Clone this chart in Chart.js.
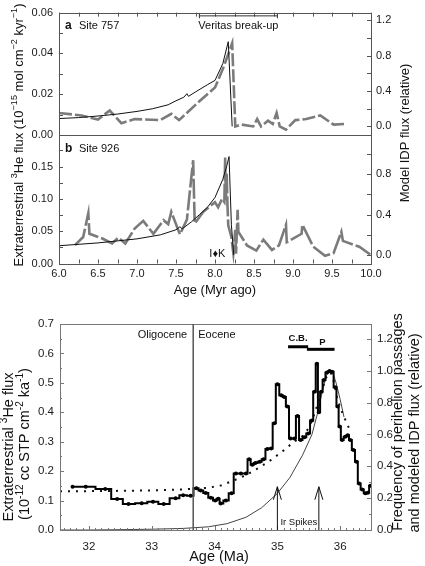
<!DOCTYPE html>
<html><head><meta charset="utf-8">
<script src="https://cdn.jsdelivr.net/npm/chart.js@4.4.1/dist/chart.umd.min.js"></script>
<style>
html,body{margin:0;padding:0;background:#fff;}
#wrap{position:relative;width:425px;height:566px;overflow:hidden;}
canvas{position:absolute;left:0;top:0;}
</style></head><body>
<div id="wrap">
<canvas id="ca" width="425" height="566"></canvas>
<canvas id="cb" width="425" height="566"></canvas>
<canvas id="cc" width="425" height="566"></canvas>
</div>
<script>
// ---------------- DATA ----------------
// Panel a: Site 757 measured 3He flux (left axis) and model IDP flux (right axis)
const ageA_site757  = [6.0, 6.29, 6.50, 6.65, 6.80, 6.97, 7.30, 7.44, 7.54, 7.77, 8.0, 8.11, 8.22, 8.26, 8.34, 8.49, 8.54, 8.59, 8.68, 8.74, 8.79, 8.83, 8.91, 9.03, 9.17, 9.35, 9.52, 9.67];
const fluxA_site757 = [0.0108, 0.0096, 0.0076, 0.0120, 0.0058, 0.0078, 0.0073, 0.0104, 0.0073, 0.0155, 0.0233, 0.0333, 0.0450, 0.0042, 0.0051, 0.0042, 0.0078, 0.0042, 0.0070, 0.0054, 0.0108, 0.0042, 0.0026, 0.0073, 0.0078, 0.0096, 0.0051, 0.0054];
const ageA_model = [6.0, 6.25, 6.5, 6.75, 7.0, 7.2, 7.4, 7.5, 7.6, 7.64, 7.66, 7.75, 7.9, 8.0, 8.1, 8.17, 8.22];
const relA_model = [0.089, 0.100, 0.118, 0.140, 0.170, 0.200, 0.245, 0.290, 0.330, 0.370, 0.340, 0.390, 0.470, 0.520, 0.710, 0.957, 0.0];

// Panel b: Site 926
const ageB_site926  = [6.205, 6.31, 6.376, 6.39, 6.55, 6.68, 6.76, 6.85, 6.97, 7.08, 7.21, 7.34, 7.40, 7.44, 7.55, 7.64, 7.72, 7.74, 7.85, 8.0, 8.04, 8.09, 8.12, 8.13, 8.14, 8.15, 8.16, 8.17, 8.21, 8.235, 8.26, 8.27, 8.29, 8.30, 8.41, 8.53, 8.62, 8.73, 8.82, 8.91, 8.92, 9.11, 9.12, 9.26, 9.41, 9.52, 9.62, 9.64, 9.85, 9.99];
const fluxB_site926 = [0.0285, 0.041, 0.078, 0.046, 0.039, 0.031, 0.040, 0.031, 0.054, 0.066, 0.046, 0.067, 0.061, 0.080, 0.045, 0.068, 0.160, 0.062, 0.080, 0.095, 0.087, 0.100, 0.095, 0.164, 0.098, 0.139, 0.090, 0.059, 0.041, 0.016, 0.052, 0.015, 0.083, 0.049, 0.028, 0.020, 0.037, 0.021, 0.028, 0.060, 0.033, 0.046, 0.060, 0.026, 0.012, 0.016, 0.049, 0.035, 0.026, 0.014];
const ageB_model = [6.0, 6.5, 7.0, 7.3, 7.5, 7.55, 7.58, 7.7, 7.8, 7.9, 8.0, 8.1, 8.15, 8.18, 8.21, 8.24];
const relB_model = [0.092, 0.120, 0.160, 0.200, 0.250, 0.280, 0.260, 0.330, 0.400, 0.470, 0.570, 0.750, 0.880, 0.975, 0.300, 0.0];

// Panel c: Eocene 3He flux (step, left axis), perihelion frequency (dotted) and modeled IDP flux (thin), right axis
const ageC_he = [31.74, 31.95, 32.26, 32.45, 32.63, 32.84, 33.02, 33.19, 33.38, 33.50, 33.62,
                 33.71, 33.78, 33.86, 33.94, 34.01, 34.06, 34.10, 34.18, 34.27, 34.34, 34.42,
                 34.50, 34.55, 34.60, 34.65, 34.72, 34.78, 34.84, 34.90, 34.95, 35.00, 35.06,
                 35.11, 35.16, 35.21, 35.27, 35.32, 35.37, 35.43, 35.49, 35.55, 35.59, 35.63,
                 35.66, 35.70, 35.74, 35.79, 35.83, 35.87, 35.92, 35.96, 35.99, 36.03, 36.08,
                 36.12, 36.16, 36.21, 36.26, 36.30, 36.35, 36.40, 36.44, 36.48];
const fluxC_he = [0.147, 0.147, 0.139, 0.105, 0.088, 0.091, 0.096, 0.088, 0.108, 0.118, 0.116,
                  0.142, 0.134, 0.126, 0.110, 0.100, 0.106, 0.090, 0.100, 0.125, 0.192, 0.192,
                  0.192, 0.240, 0.222, 0.228, 0.232, 0.240, 0.275, 0.277, 0.363, 0.495, 0.458,
                  0.452, 0.420, 0.311, 0.311, 0.387, 0.306, 0.315, 0.328, 0.372, 0.470, 0.565,
                  0.400, 0.470, 0.510, 0.535, 0.540, 0.538, 0.485, 0.420, 0.352, 0.306, 0.317,
                  0.322, 0.306, 0.272, 0.232, 0.158, 0.138, 0.125, 0.127, 0.150];
const ageC_perihelion  = [31.54, 32.0, 32.5, 33.0, 33.5, 33.9, 34.1, 34.3, 34.5, 34.7, 34.9, 35.1, 35.25, 35.4, 35.5, 35.6, 35.7, 35.78, 35.85, 35.9, 35.95, 36.0, 36.05, 36.14];
const freqC_perihelion = [0.243, 0.244, 0.246, 0.249, 0.255, 0.265, 0.280, 0.310, 0.345, 0.390, 0.440, 0.500, 0.550, 0.590, 0.640, 0.740, 0.870, 0.960, 0.990, 0.930, 0.830, 0.770, 0.720, 0.640];
const ageC_idp = [31.54, 32.0, 32.5, 33.0, 33.5, 33.9, 34.2, 34.5, 34.75, 35.0, 35.2, 35.4, 35.55, 35.65, 35.72, 35.78, 35.83, 35.88, 35.93, 36.0, 36.06];
const relC_idp = [0.0, 0.0, 0.002, 0.005, 0.010, 0.020, 0.040, 0.080, 0.140, 0.230, 0.330, 0.470, 0.600, 0.750, 0.880, 0.970, 1.0, 0.990, 0.930, 0.820, 0.710];

// Tick labels
const ticksX_ab    = [6.0, 6.5, 7.0, 7.5, 8.0, 8.5, 9.0, 9.5, 10.0];
const ticksLeftA   = [0.00, 0.02, 0.04, 0.06];
const ticksRightA  = [0.0, 0.4, 0.8, 1.2];
const ticksLeftB   = [0.00, 0.05, 0.10, 0.15];
const ticksRightB  = [0.0, 0.4, 0.8];
const ticksX_c     = [32, 33, 34, 35, 36];
const ticksLeftC   = [0.0, 0.1, 0.2, 0.3, 0.4, 0.5, 0.6, 0.7];
const ticksRightC  = [0.0, 0.2, 0.4, 0.6, 0.8, 1.0, 1.2];

// Annotation values
const veritasBreakup = [7.8, 8.8];
const boundaryAge = 33.66;
const cbRange = [35.17, 35.49];
const pRange  = [35.47, 35.91];
const irSpikes = [35.0, 35.66];

// ---------------- HELPERS ----------------
const FONT = "'Liberation Sans', Arial, Helvetica, sans-serif";
Chart.defaults.font.family = FONT;
Chart.defaults.color = '#1a1a1a';
const GRAY = '#7b7b7b', BLACK = '#111';

function pts(xs, ys) { return xs.map((x, i) => ({ x: x, y: ys[i] })); }

function axis(o) {
  return {
    type: 'linear', position: o.pos, min: o.min, max: o.max,
    display: o.display !== false,
    afterFit: s => { if (o.pos === 'left' || o.pos === 'right') s.width = o.size; else s.height = o.size; },
    afterBuildTicks: s => { s.ticks = o.ticks.map(v => ({ value: v })); },
    grid: { display: false, drawTicks: false },
    border: { display: false },
    ticks: { padding: o.pad, autoSkip: false, maxRotation: 0, minRotation: 0,
             font: { size: o.font }, color: '#1a1a1a',
             callback: v => Number(v).toFixed(o.dec) }
  };
}

function drawRich(c, segs, x, y, it) {
  const size = it.size || 11, w = it.weight || 'normal';
  const base = w + ' ' + size + 'px ' + FONT;
  const sup = w + ' ' + (size * 0.7).toFixed(1) + 'px ' + FONT;
  let total = 0;
  const widths = segs.map(s => { c.font = s.sup ? sup : base; const m = c.measureText(s.s).width; total += m; return m; });
  c.save();
  c.translate(x, y);
  if (it.rot) c.rotate(it.rot);
  let start = it.align === 'left' ? 0 : (it.align === 'right' ? -total : -total / 2);
  c.textBaseline = 'middle'; c.textAlign = 'left';
  segs.forEach((s, i) => { c.font = s.sup ? sup : base; c.fillText(s.s, start, s.sup ? -size * 0.33 : 0); start += widths[i]; });
  c.restore();
}

const framePlugin = {
  id: 'frame',
  afterDatasetsDraw(chart, args, o) {
    const a = chart.chartArea, c = chart.ctx;
    c.save();
    c.strokeStyle = o.color || '#555'; c.lineWidth = 1;
    c.strokeRect(Math.round(a.left) + 0.5, Math.round(a.top) + 0.5, Math.round(a.right - a.left), Math.round(a.bottom - a.top));
    (o.marks || []).forEach(m => {
      const s = chart.scales[m.scale];
      for (let i = 0; ; i++) {
        const v = m.from + i * m.step;
        if (v > m.to + 1e-9) break;
        const isMajor = m.major && Math.abs(v / m.major - Math.round(v / m.major)) < 1e-6;
        const len = isMajor ? m.lenMajor : m.len;
        const p = Math.round(s.getPixelForValue(v)) + 0.5;
        c.beginPath();
        if (m.side === 'bottom') { c.moveTo(p, a.bottom); c.lineTo(p, a.bottom - len); }
        else if (m.side === 'top') { c.moveTo(p, a.top); c.lineTo(p, a.top + len); }
        else if (m.side === 'left') { c.moveTo(a.left, p); c.lineTo(a.left + len, p); }
        else { c.moveTo(a.right, p); c.lineTo(a.right - len, p); }
        c.stroke();
      }
    });
    c.restore();
  }
};

const annotPlugin = {
  id: 'annot',
  afterDatasetsDraw(chart, args, o) {
    const c = chart.ctx;
    const P = (v, sid, d) => (sid ? chart.scales[sid].getPixelForValue(v) : v) + (d || 0);
    c.save();
    (o.items || []).forEach(it => {
      c.strokeStyle = it.color || '#111'; c.fillStyle = it.color || '#111';
      c.lineWidth = it.w || 1; c.lineCap = 'butt';
      if (it.t === 'line') {
        c.beginPath();
        c.moveTo(P(it.x1, it.xs, it.dx1), P(it.y1, it.ys, it.dy1));
        c.lineTo(P(it.x2, it.xs, it.dx2), P(it.y2, it.ys, it.dy2));
        c.stroke();
      } else if (it.t === 'arrow') {
        const x = P(it.x, it.xs), yb = P(it.y1, it.ys), yt = P(it.y2, it.ys);
        c.beginPath(); c.moveTo(x, yb); c.lineTo(x, yt); c.stroke();
        c.beginPath(); c.moveTo(x - it.hw, yt + it.hl); c.lineTo(x, yt); c.lineTo(x + it.hw, yt + it.hl); c.stroke();
      } else if (it.t === 'text') {
        drawRich(c, it.segs || [{ s: it.text }], P(it.x, it.xs, it.dx), P(it.y, it.ys, it.dy), it);
      }
    });
    c.restore();
  }
};

const baseOpts = { responsive: false, animation: false, events: [] };

// ---------------- PANEL A ----------------
new Chart(document.getElementById('ca'), {
  type: 'line',
  data: { datasets: [
    { data: pts(ageA_model, relA_model), yAxisID: 'yR', borderColor: BLACK, borderWidth: 1, pointRadius: 0 },
    { data: pts(ageA_site757, fluxA_site757), yAxisID: 'yL', borderColor: GRAY, borderWidth: 2.6, borderDash: [13, 3], pointRadius: 0 }
  ]},
  options: Object.assign({}, baseOpts, {
    layout: { padding: { top: 6, bottom: 431, left: 0, right: 0 } },
    scales: {
      x: { type: 'linear', min: 6, max: 10, display: false },
      yL: axis({ pos: 'left', min: 0, max: 0.06, size: 59, ticks: ticksLeftA, dec: 2, font: 11, pad: 6 }),
      yR: axis({ pos: 'right', min: -0.0965, max: 1.286, size: 54, ticks: ticksRightA, dec: 1, font: 11, pad: 5 })
    },
    plugins: {
      legend: { display: false }, tooltip: { enabled: false },
      frame: { color: '#555', marks: [
        { scale: 'x', side: 'top', from: 6, to: 10, step: 0.25, len: 4 },
        { scale: 'yR', side: 'right', from: 0, to: 1.2, step: 0.2, len: 4 },
        { scale: 'yL', side: 'left', from: 0, to: 0.06, step: 0.01, len: 4 }
      ]},
      annot: { items: [
        { t: 'text', text: 'a', x: 6.077, y: 0.0535, xs: 'x', ys: 'yL', size: 12, weight: 'bold', align: 'left' },
        { t: 'text', text: 'Site 757', x: 6.256, y: 0.0535, xs: 'x', ys: 'yL', size: 11, align: 'left' },
        { t: 'text', text: 'Veritas break-up', x: (veritasBreakup[0] + veritasBreakup[1]) / 2, y: 0.0535, xs: 'x', ys: 'yL', size: 11, align: 'center' },
        { t: 'line', x1: veritasBreakup[0], y1: 0.0584, x2: veritasBreakup[1], y2: 0.0584, xs: 'x', ys: 'yL', w: 1, color: '#333' },
        { t: 'line', x1: veritasBreakup[0], y1: 0.0595, x2: veritasBreakup[0], y2: 0.0572, xs: 'x', ys: 'yL', w: 1, color: '#333' },
        { t: 'line', x1: veritasBreakup[1], y1: 0.0595, x2: veritasBreakup[1], y2: 0.0572, xs: 'x', ys: 'yL', w: 1, color: '#333' }
      ]}
    }
  }),
  plugins: [framePlugin, annotPlugin]
});

// ---------------- PANEL B ----------------
new Chart(document.getElementById('cb'), {
  type: 'line',
  data: { datasets: [
    { data: pts(ageB_model, relB_model), yAxisID: 'yR', borderColor: BLACK, borderWidth: 1, pointRadius: 0 },
    { data: pts(ageB_site926, fluxB_site926), yAxisID: 'yL', borderColor: GRAY, borderWidth: 2.6, borderDash: [20, 3], pointRadius: 0 }
  ]},
  options: Object.assign({}, baseOpts, {
    layout: { padding: { top: 135, bottom: 0, left: 0, right: 0 } },
    scales: {
      x: axis({ pos: 'bottom', min: 6, max: 10, size: 302.5, ticks: ticksX_ab, dec: 1, font: 11, pad: 4 }),
      yL: axis({ pos: 'left', min: 0, max: 0.199, size: 59, ticks: ticksLeftB, dec: 2, font: 11, pad: 6 }),
      yR: axis({ pos: 'right', min: -0.084, max: 1.189, size: 54, ticks: ticksRightB, dec: 1, font: 11, pad: 5 })
    },
    plugins: {
      legend: { display: false }, tooltip: { enabled: false },
      frame: { color: '#555', marks: [
        { scale: 'x', side: 'bottom', from: 6, to: 10, step: 0.25, len: 4 },
        { scale: 'yR', side: 'right', from: 0, to: 1.0, step: 0.2, len: 4 },
        { scale: 'yL', side: 'left', from: 0, to: 0.175, step: 0.025, len: 4 }
      ]},
      annot: { items: [
        { t: 'text', text: 'b', x: 6.077, y: 0.1777, xs: 'x', ys: 'yL', size: 12, weight: 'bold', align: 'left' },
        { t: 'text', text: 'Site 926', x: 6.256, y: 0.1777, xs: 'x', ys: 'yL', size: 11, align: 'left' },
        { t: 'text', text: 'I\u2666K', x: 8.03, y: 0.0146, xs: 'x', ys: 'yL', size: 11, align: 'center' },
        { t: 'text', x: 19, y: 135, size: 13, rot: -Math.PI / 2, align: 'center', segs: [
          { s: 'Extraterrestrial ' }, { s: '3', sup: 1 }, { s: 'He flux (10' }, { s: '\u221215', sup: 1 },
          { s: ' mol cm' }, { s: '\u22122', sup: 1 }, { s: ' kyr' }, { s: '\u22121', sup: 1 }, { s: ')' } ] },
        { t: 'text', text: 'Model IDP flux (relative)', x: 405, y: 133, size: 13, rot: -Math.PI / 2, align: 'center' },
        { t: 'text', text: 'Age (Myr ago)', x: 215, y: 290, size: 13, align: 'center' }
      ]}
    }
  }),
  plugins: [framePlugin, annotPlugin]
});

// ---------------- PANEL C ----------------
new Chart(document.getElementById('cc'), {
  type: 'line',
  data: { datasets: [
    { data: pts(ageC_he, fluxC_he), yAxisID: 'yL', borderColor: '#000', borderWidth: 2, stepped: 'middle',
      pointRadius: 2, pointBackgroundColor: '#000', pointBorderWidth: 0 },
    { data: pts(ageC_perihelion, freqC_perihelion), yAxisID: 'yR', borderColor: '#111', borderWidth: 2, borderDash: [2, 6], pointRadius: 0 },
    { data: pts(ageC_idp, relC_idp), yAxisID: 'yR', borderColor: '#444', borderWidth: 1, pointRadius: 0 }
  ]},
  options: Object.assign({}, baseOpts, {
    layout: { padding: { top: 324, bottom: 0, left: 0, right: 0 } },
    scales: {
      x: axis({ pos: 'bottom', min: 31.54, max: 36.49, size: 36, ticks: ticksX_c, dec: 0, font: 11.5, pad: 10 }),
      yL: axis({ pos: 'left', min: 0, max: 0.7, size: 60, ticks: ticksLeftC, dec: 1, font: 11.5, pad: 6 }),
      yR: axis({ pos: 'right', min: 0, max: 1.294, size: 54, ticks: ticksRightC, dec: 1, font: 11.5, pad: 6 })
    },
    plugins: {
      legend: { display: false }, tooltip: { enabled: false },
      frame: { color: '#777', marks: [
        { scale: 'x', side: 'bottom', from: 31.6, to: 36.4, step: 0.1, len: 2, major: 1, lenMajor: 4 },
        { scale: 'yL', side: 'left', from: 0, to: 0.7, step: 0.05, len: 2, major: 0.1, lenMajor: 4 },
        { scale: 'yR', side: 'right', from: 0, to: 1.2, step: 0.1, len: 2, major: 0.2, lenMajor: 4 }
      ]},
      annot: { items: [
        { t: 'line', x1: boundaryAge, y1: 0, x2: boundaryAge, y2: 0.7, xs: 'x', ys: 'yL', w: 1.5, color: '#555' },
        { t: 'text', text: 'Oligocene', x: boundaryAge, dx: -6, y: 0.663, xs: 'x', ys: 'yL', size: 11, align: 'right' },
        { t: 'text', text: 'Eocene', x: boundaryAge, dx: 5, y: 0.663, xs: 'x', ys: 'yL', size: 11, align: 'left' },
        { t: 'line', x1: cbRange[0], y1: 1.151, x2: cbRange[1], y2: 1.151, xs: 'x', ys: 'yR', w: 3, color: '#000' },
        { t: 'line', x1: pRange[0], y1: 1.135, x2: pRange[1], y2: 1.135, xs: 'x', ys: 'yR', w: 3, color: '#000' },
        { t: 'text', text: 'C.B.', x: (cbRange[0] + cbRange[1]) / 2, y: 1.206, xs: 'x', ys: 'yR', size: 9.5, weight: 'bold', align: 'center' },
        { t: 'text', text: 'P', x: 35.715, y: 1.181, xs: 'x', ys: 'yR', size: 9.5, weight: 'bold', align: 'center' },
        { t: 'arrow', x: irSpikes[0], y1: 0, y2: 0.147, xs: 'x', ys: 'yL', w: 1, hw: 4, hl: 13, color: '#111' },
        { t: 'arrow', x: irSpikes[1], y1: 0, y2: 0.147, xs: 'x', ys: 'yL', w: 1, hw: 4, hl: 13, color: '#111' },
        { t: 'text', text: 'Ir Spikes', x: irSpikes[0], dx: 3, y: 0.027, xs: 'x', ys: 'yL', size: 9.5, align: 'left' },
        { t: 'text', x: 9, y: 447, size: 14.5, rot: -Math.PI / 2, align: 'center', segs: [
          { s: 'Extraterrestrial ' }, { s: '3', sup: 1 }, { s: 'He flux' } ] },
        { t: 'text', x: 25, y: 444, size: 14.5, rot: -Math.PI / 2, align: 'center', segs: [
          { s: '(10' }, { s: '-12', sup: 1 }, { s: ' cc STP cm' }, { s: '-2', sup: 1 }, { s: ' ka' }, { s: '-1', sup: 1 }, { s: ')' } ] },
        { t: 'text', text: 'Frequency of perihelion passages', x: 398, y: 422, size: 14.5, rot: -Math.PI / 2, align: 'center' },
        { t: 'text', text: 'and modeled IDP flux (relative)', x: 415, y: 433, size: 14.5, rot: -Math.PI / 2, align: 'center' },
        { t: 'text', text: 'Age (Ma)', x: 219, y: 557, size: 14.5, align: 'center' }
      ]}
    }
  }),
  plugins: [framePlugin, annotPlugin]
});
</script>
</body></html>
